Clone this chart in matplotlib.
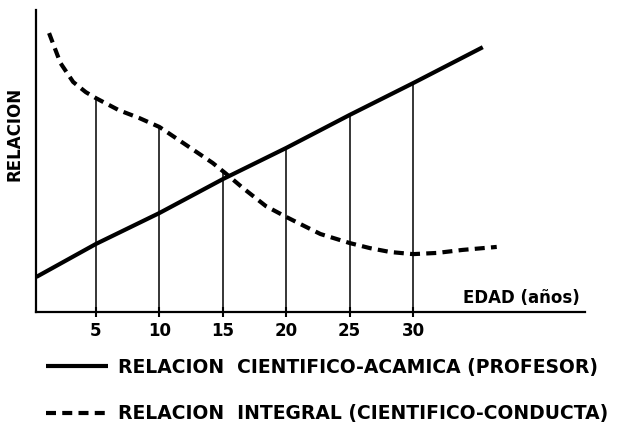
import numpy as np
import matplotlib
matplotlib.use("Agg")
import matplotlib.pyplot as plt

# age in years and relation level (arbitrary units, 0 at the age axis)
edad_profesor = [0.3, 5, 10, 15, 20, 25, 30, 35.5]
rel_profesor = [11.7, 22.7, 33.0, 44.3, 54.7, 65.7, 76.3, 88.3]

edad_integral = [1.3, 2.2, 3.2, 4.2, 5, 6.8, 8.4, 10, 11.3, 12.7, 14.2,
                 15.2, 16.6, 18.4, 20, 21.6, 22.7, 25, 26.6, 28.2, 30,
                 31.9, 33.9, 36.6]
rel_integral = [93.0, 83.0, 76.7, 73.3, 71.3, 67.3, 64.7, 61.7, 58.0, 54.0,
                49.7, 46.3, 41.3, 35.3, 31.7, 28.3, 26.0, 23.0, 21.3, 20.0,
                19.3, 19.7, 20.7, 21.7]

ticks = [5, 10, 15, 20, 25, 30]
tick_labels = ["5", "10", "15", "20", "25", "30"]

label_profesor = "RELACION  CIENTIFICO-ACAMICA (PROFESOR)"
label_integral = "RELACION  INTEGRAL (CIENTIFICO-CONDUCTA)"

plt.rcParams['font.family'] = ['DejaVu Sans']

W, H = 625, 429
fig = plt.figure(figsize=(W / 100, H / 100), dpi=100)
# axes box: x 36..585 px, y 10..312 px
ax = fig.add_axes([36 / W, 1 - 312 / H, (585 - 36) / W, (312 - 10) / H])
ax.set_xlim(0.27, 43.56)
ax.set_ylim(0, 100.7)

line_p, = ax.plot(edad_profesor, rel_profesor, color="black", lw=3.0,
                  solid_capstyle="butt")
line_i, = ax.plot(edad_integral, rel_integral, color="black", lw=3.0,
                  dashes=(2.4, 1.5), dash_capstyle="butt",
                  dash_joinstyle="round")

# drop lines from each age up to the higher of the two curves
tops = np.maximum(np.interp(ticks, edad_profesor, rel_profesor),
                  np.interp(ticks, edad_integral, rel_integral))
ax.vlines(ticks, 0, tops, color="black", lw=1.1)

for side in ("top", "right"):
    ax.spines[side].set_visible(False)
for side in ("left", "bottom"):
    ax.spines[side].set_linewidth(1.6)

ax.set_xticks(ticks)
ax.set_xticklabels(tick_labels, fontsize=12, fontweight="bold")
ax.tick_params(axis="x", direction="inout", length=7, width=1.5, pad=4)
ax.set_yticks([])

ax.text(0.99, 0.015, "EDAD (años)", transform=ax.transAxes, ha="right",
        va="bottom", fontsize=12, fontweight="bold")
ax.set_ylabel("RELACION", fontsize=12, fontweight="bold")
ax.yaxis.set_label_coords(-0.022, 0.59)

leg = fig.legend([line_p, line_i], [label_profesor, label_integral],
                 loc="upper left", bbox_to_anchor=(46 / W, 1 - 358 / H),
                 frameon=False, handlelength=3.3, handletextpad=0.55,
                 labelspacing=1.45, borderaxespad=0, borderpad=0,
                 prop={"size": 13.5, "weight": "bold"})

fig.savefig("out.png", dpi=100)
